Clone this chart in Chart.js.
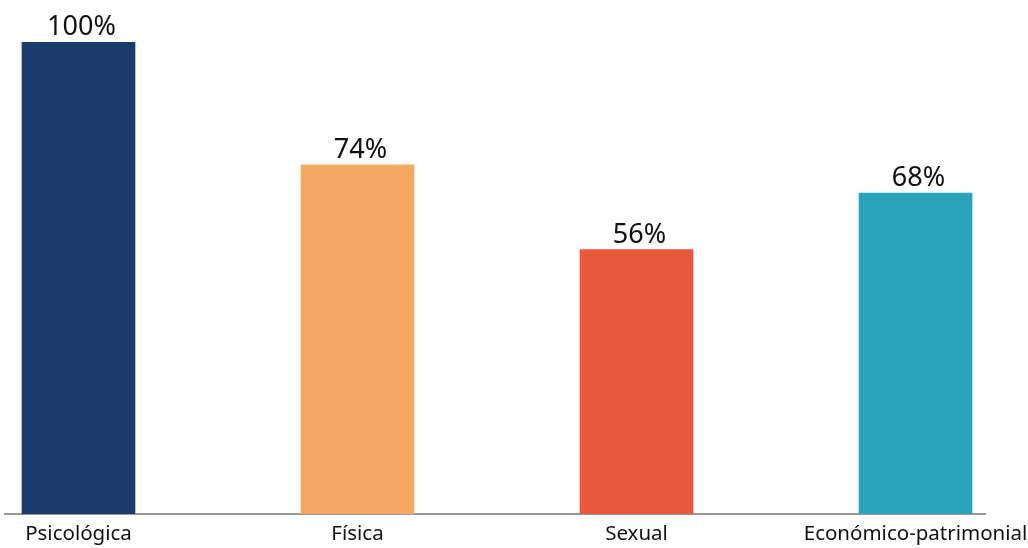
<!DOCTYPE html>
<html>
<head>
<meta charset="utf-8">
<script src="https://cdn.jsdelivr.net/npm/chart.js@4/dist/chart.umd.min.js"></script>
<style>
  html, body { margin: 0; padding: 0; background: #fff; }
  #wrap { width: 1028px; height: 548px; }
</style>
</head>
<body>
<div id="wrap"><canvas id="chart"></canvas></div>
<script>
// Chart data
const categories = ['Psicológica', 'Física', 'Sexual', 'Económico-patrimonial'];
const values = [100, 74, 56, 68];
const valueLabels = ['100%', '74%', '56%', '68%'];
const barColors = ['#1b3b6d', '#f4a862', '#e8583a', '#2aa3bc'];

// Draws the percentage above each bar
const valueLabelPlugin = {
    id: 'valueLabels',
    afterDatasetsDraw(chart) {
        const ctx = chart.ctx;
        const meta = chart.getDatasetMeta(0);
        ctx.save();
        ctx.font = '27px "Noto Sans"';
        ctx.fillStyle = '#111';
        ctx.textAlign = 'center';
        ctx.textBaseline = 'alphabetic';
        meta.data.forEach(function(bar, i) {
            ctx.fillText(valueLabels[i], bar.x + 3, bar.y - 7);
        });
        ctx.restore();
    }
};

new Chart(document.getElementById('chart'), {
    type: 'bar',
    data: {
        datasets: [{
            data: values.map((v, i) => ({ x: i, y: v })),
            backgroundColor: barColors,
            borderWidth: 0,
            barThickness: 113
        }]
    },
    options: {
        responsive: true,
        maintainAspectRatio: false,
        animation: false,
        layout: { padding: { top: 42, right: 43, bottom: 0, left: 5 } },
        scales: {
            x: {
                type: 'linear',
                offset: false,
                min: -0.2634,
                max: 3.249,
                afterBuildTicks: axis => {
                    axis.ticks = categories.map((c, i) => ({ value: i }));
                },
                // long last label may overhang the plot area, as in the original
                afterFit: axis => {
                    axis.paddingLeft = 0;
                    axis.paddingRight = 0;
                    axis.height = 34;
                },
                grid: { display: false, drawTicks: false },
                border: { display: true, color: '#999', width: 2 },
                ticks: {
                    padding: 10,
                    color: '#111',
                    font: { family: 'Noto Sans', size: 20.5, lineHeight: 1.0 },
                    callback: value => categories[value]
                }
            },
            y: {
                display: false,
                min: 0,
                max: 100
            }
        },
        plugins: {
            legend: { display: false },
            tooltip: { enabled: false }
        }
    },
    plugins: [valueLabelPlugin]
});
</script>
</body>
</html>
